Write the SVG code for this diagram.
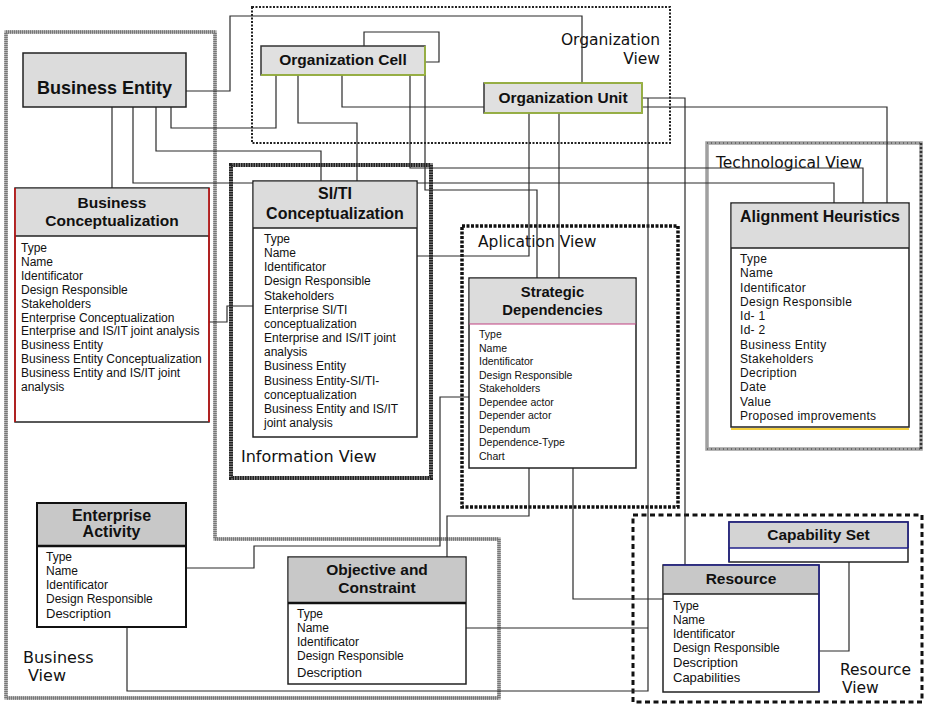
<svg xmlns="http://www.w3.org/2000/svg" width="925" height="706" viewBox="0 0 925 706">
<style>
.conn{fill:none;stroke:#2a2a2a;stroke-width:1.2}
.t{font-family:"Liberation Sans",Arial,sans-serif;font-weight:bold;fill:#111;text-anchor:middle}
.a{font-family:"Liberation Sans",Arial,sans-serif;font-size:12px;fill:#111}
.v{font-family:"DejaVu Sans",Verdana,sans-serif;font-size:15.5px;fill:#111}
.box{fill:#fff;stroke:#222;stroke-width:1.5}
.hd{fill:#dcdcdc}
.hd2{fill:#c8c8c8}
.sep{stroke:#222;stroke-width:1.5}
</style>
<rect width="925" height="706" fill="#fff"/>
<g id="views">
  <path d="M6,32 H215 V539 H499 V698 H6 Z" fill="none" stroke="#b0b0b0" stroke-width="3.5"/>
  <path d="M6,32 H215 V539 H499 V698 H6 Z" fill="none" stroke="#777" stroke-width="3.5" stroke-dasharray="1 1"/>
  <rect x="252" y="7" width="418" height="136" fill="none" stroke="#222" stroke-width="2" stroke-dasharray="2 1.5"/>
  <rect x="231" y="165" width="200" height="313" fill="none" stroke="#888" stroke-width="4"/>
  <rect x="231" y="165" width="200" height="313" fill="none" stroke="#222" stroke-width="4" stroke-dasharray="1.5 1"/>
  <rect x="462" y="226" width="216" height="281" fill="none" stroke="#111" stroke-width="3.5" stroke-dasharray="3 1.5"/>
  <rect x="707" y="143" width="214" height="306" fill="none" stroke="#a0a0a0" stroke-width="3.5"/>
  <path d="M707,143 H921 M707,449 H921" fill="none" stroke="#555" stroke-width="1.5" stroke-dasharray="1 3"/>
  <path d="M921,143 V449" fill="none" stroke="#333" stroke-width="2.5" stroke-dasharray="2 2"/>
  <rect x="633" y="515" width="289" height="187" fill="none" stroke="#111" stroke-width="3" stroke-dasharray="5 3.5"/>
  <text class="v" x="660" y="45" text-anchor="end">Organization</text>
  <text class="v" x="660" y="64" text-anchor="end">View</text>
  <text class="v" x="241" y="462" style="font-size:16px">Information View</text>
  <text class="v" x="478" y="247">Aplication View</text>
  <text class="v" x="716" y="168">Technological View</text>
  <text class="v" x="23" y="663" style="font-size:16px">Business</text>
  <text class="v" x="28" y="681" style="font-size:16px">View</text>
  <text class="v" x="840" y="675">Resource</text>
  <text class="v" x="842" y="693">View</text>
</g>
<g id="connectors">
  <path class="conn" d="M112,107 V188"/>
  <path class="conn" d="M186,91 H230 V16 H582 V83"/>
  <path class="conn" d="M171,107 V128 H276 V75"/>
  <path class="conn" d="M156,107 V151 H321 V181"/>
  <path class="conn" d="M133,107 V183 H834 V203"/>
  <path class="conn" d="M364,46 V32 H439 V62 H425"/>
  <path class="conn" d="M298,75 V123 H357 V181"/>
  <path class="conn" d="M342,75 V107 H887 V203"/>
  <path class="conn" d="M410,75 V168 H863 V203"/>
  <path class="conn" d="M425,75 V190 H537 V278"/>
  <path class="conn" d="M529,113 V256 H417"/>
  <path class="conn" d="M559,113 V278"/>
  <path class="conn" d="M642,98 H685 V565"/>
  <path class="conn" d="M127,627 V691 H648 V98"/>
  <path class="conn" d="M209,322 H227 V306 H253"/>
  <path class="conn" d="M186,568 H254 V546 H440 V397 H469"/>
  <path class="conn" d="M529,468 V516 H447 V557"/>
  <path class="conn" d="M573,468 V599 H663"/>
  <path class="conn" d="M466,628 H648"/>
  <path class="conn" d="M819,651 H849 V562"/>
</g>
<g id="business-entity">
  <rect x="23" y="53" width="163" height="54" fill="#dcdcdc" stroke="#222" stroke-width="1.5"/>
  <text class="t" x="104.5" y="94" style="font-size:18px">Business Entity</text>
</g>
<g id="organization-cell">
  <rect x="261" y="46" width="164" height="29" fill="#e0e0e0" stroke="#333" stroke-width="1.5"/>
  <path d="M425,46 V75 H261" fill="none" stroke="#a8c83c" stroke-width="1.5"/>
  <text class="t" x="343" y="65" style="font-size:15.5px">Organization Cell</text>
</g>
<g id="organization-unit">
  <rect x="484" y="83" width="158" height="30" fill="#e0e0e0" stroke="#333" stroke-width="1.5"/>
  <path d="M484,83 H642 V113 H484" fill="none" stroke="#a8c83c" stroke-width="1.5"/>
  <text class="t" x="563" y="103" style="font-size:15.5px">Organization Unit</text>
</g>
<g id="business-conceptualization">
  <rect class="box" x="15" y="188" width="194" height="234"/>
  <rect class="hd" x="15.75" y="188.75" width="192.5" height="47.25"/>
  <line class="sep" x1="15" y1="236" x2="209" y2="236"/>
  <path d="M15,188 V422 M209,188 V422" stroke="#cc1010" stroke-width="1.5"/>
  <text class="t" x="112" y="208" style="font-size:15.5px">Business</text>
  <text class="t" x="112" y="226" style="font-size:15.5px">Conceptualization</text>
  <text class="a" x="21" y="252">Type<tspan x="21" dy="13.9">Name</tspan><tspan x="21" dy="13.9">Identificator</tspan><tspan x="21" dy="13.9">Design Responsible</tspan><tspan x="21" dy="13.9">Stakeholders</tspan><tspan x="21" dy="13.9">Enterprise Conceptualization</tspan><tspan x="21" dy="13.9">Enterprise and IS/IT joint analysis</tspan><tspan x="21" dy="13.9">Business Entity</tspan><tspan x="21" dy="13.9">Business Entity Conceptualization</tspan><tspan x="21" dy="13.9">Business Entity and IS/IT joint</tspan><tspan x="21" dy="13.9">analysis</tspan></text>
</g>
<g id="siti-conceptualization">
  <rect class="box" x="253" y="181" width="164" height="256"/>
  <rect class="hd" x="253.75" y="181.75" width="162.5" height="46.25"/>
  <line class="sep" x1="253" y1="228" x2="417" y2="228"/>
  <text class="t" x="335" y="199" style="font-size:16px">SI/TI</text>
  <text class="t" x="335" y="219" style="font-size:16px">Conceptualization</text>
  <text class="a" x="264" y="243">Type<tspan x="264" dy="14.15">Name</tspan><tspan x="264" dy="14.15">Identificator</tspan><tspan x="264" dy="14.15">Design Responsible</tspan><tspan x="264" dy="14.15">Stakeholders</tspan><tspan x="264" dy="14.15">Enterprise SI/TI</tspan><tspan x="264" dy="14.15">conceptualization</tspan><tspan x="264" dy="14.15">Enterprise and IS/IT joint</tspan><tspan x="264" dy="14.15">analysis</tspan><tspan x="264" dy="14.15">Business Entity</tspan><tspan x="264" dy="14.15">Business Entity-SI/TI-</tspan><tspan x="264" dy="14.15">conceptualization</tspan><tspan x="264" dy="14.15">Business Entity and IS/IT</tspan><tspan x="264" dy="14.15">joint analysis</tspan></text>
</g>
<g id="strategic-dependencies">
  <rect class="box" x="469" y="278" width="167" height="190"/>
  <rect class="hd" x="469.75" y="278.75" width="165.5" height="45.25"/>
  <line x1="469" y1="324" x2="636" y2="324" stroke="#c04080" stroke-width="1.2"/>
  <text class="t" x="552.5" y="297" style="font-size:14.8px">Strategic</text>
  <text class="t" x="552.5" y="315" style="font-size:14.8px">Dependencies</text>
  <text class="a" x="479" y="338" style="font-size:10.5px">Type<tspan x="479" dy="13.5">Name</tspan><tspan x="479" dy="13.5">Identificator</tspan><tspan x="479" dy="13.5">Design Responsible</tspan><tspan x="479" dy="13.5">Stakeholders</tspan><tspan x="479" dy="13.5">Dependee actor</tspan><tspan x="479" dy="13.5">Depender actor</tspan><tspan x="479" dy="13.5">Dependum</tspan><tspan x="479" dy="13.5">Dependence-Type</tspan><tspan x="479" dy="13.5">Chart</tspan></text>
</g>
<g id="alignment-heuristics">
  <rect class="box" x="731" y="203" width="178" height="224"/>
  <rect class="hd" x="731.75" y="203.75" width="176.5" height="44.25"/>
  <line class="sep" x1="731" y1="248" x2="909" y2="248"/>
  <line x1="731" y1="429" x2="909" y2="429" stroke="#f0c000" stroke-width="1.5"/>
  <text class="t" x="820" y="222" style="font-size:16px">Alignment Heuristics</text>
  <text class="a" x="740" y="263" style="letter-spacing:0.3px">Type<tspan x="740" dy="14.27">Name</tspan><tspan x="740" dy="14.27">Identificator</tspan><tspan x="740" dy="14.27">Design Responsible</tspan><tspan x="740" dy="14.27">Id- 1</tspan><tspan x="740" dy="14.27">Id- 2</tspan><tspan x="740" dy="14.27">Business Entity</tspan><tspan x="740" dy="14.27">Stakeholders</tspan><tspan x="740" dy="14.27">Decription</tspan><tspan x="740" dy="14.27">Date</tspan><tspan x="740" dy="14.27">Value</tspan><tspan x="740" dy="14.27">Proposed improvements</tspan></text>
</g>
<g id="enterprise-activity">
  <rect x="37" y="503" width="149" height="124" fill="#fff" stroke="#111" stroke-width="2"/>
  <rect class="hd2" x="38" y="504" width="147" height="42"/>
  <line x1="37" y1="546" x2="186" y2="546" stroke="#111" stroke-width="2.5"/>
  <text class="t" x="111.5" y="521" style="font-size:16px">Enterprise</text>
  <text class="t" x="111.5" y="537" style="font-size:16px">Activity</text>
  <text class="a" x="46" y="561">Type<tspan x="46" dy="14">Name</tspan><tspan x="46" dy="14">Identificator</tspan><tspan x="46" dy="14">Design Responsible</tspan><tspan x="46" dy="15" style="font-size:13px">Description</tspan></text>
</g>
<g id="objective-and-constraint">
  <rect class="box" x="288" y="557" width="178" height="127"/>
  <rect class="hd2" x="288.75" y="557.75" width="176.5" height="45.25"/>
  <line x1="288" y1="603" x2="466" y2="603" stroke="#111" stroke-width="2.5"/>
  <text class="t" x="377" y="575" style="font-size:15.5px">Objective and</text>
  <text class="t" x="377" y="593" style="font-size:15.5px">Constraint</text>
  <text class="a" x="297" y="618">Type<tspan x="297" dy="14">Name</tspan><tspan x="297" dy="14">Identificator</tspan><tspan x="297" dy="14">Design Responsible</tspan><tspan x="297" dy="17" style="font-size:13px">Description</tspan></text>
</g>
<g id="capability-set">
  <rect class="box" x="729" y="522" width="179" height="40"/>
  <rect x="729.75" y="522.75" width="177.5" height="25.25" fill="#d4d4d4"/>
  <path d="M729,562 V522 H908 V548 M729,548 H908" fill="none" stroke="#20208a" stroke-width="1.5"/>
  <text class="t" x="818.5" y="540" style="font-size:15.5px">Capability Set</text>
</g>
<g id="resource">
  <rect class="box" x="663" y="565" width="156" height="127"/>
  <rect class="hd2" x="663.75" y="565.75" width="154.5" height="28.25"/>
  <line class="sep" x1="663" y1="594" x2="819" y2="594"/>
  <path d="M663,565 H819 V692" fill="none" stroke="#20208a" stroke-width="1.5"/>
  <text class="t" x="741" y="584" style="font-size:15.5px">Resource</text>
  <text class="a" x="673" y="610">Type<tspan x="673" dy="14">Name</tspan><tspan x="673" dy="14">Identificator</tspan><tspan x="673" dy="14">Design Responsible</tspan><tspan x="673" dy="15" style="font-size:13px">Description</tspan><tspan x="673" dy="15" style="font-size:13px">Capabilities</tspan></text>
</g>
</svg>
